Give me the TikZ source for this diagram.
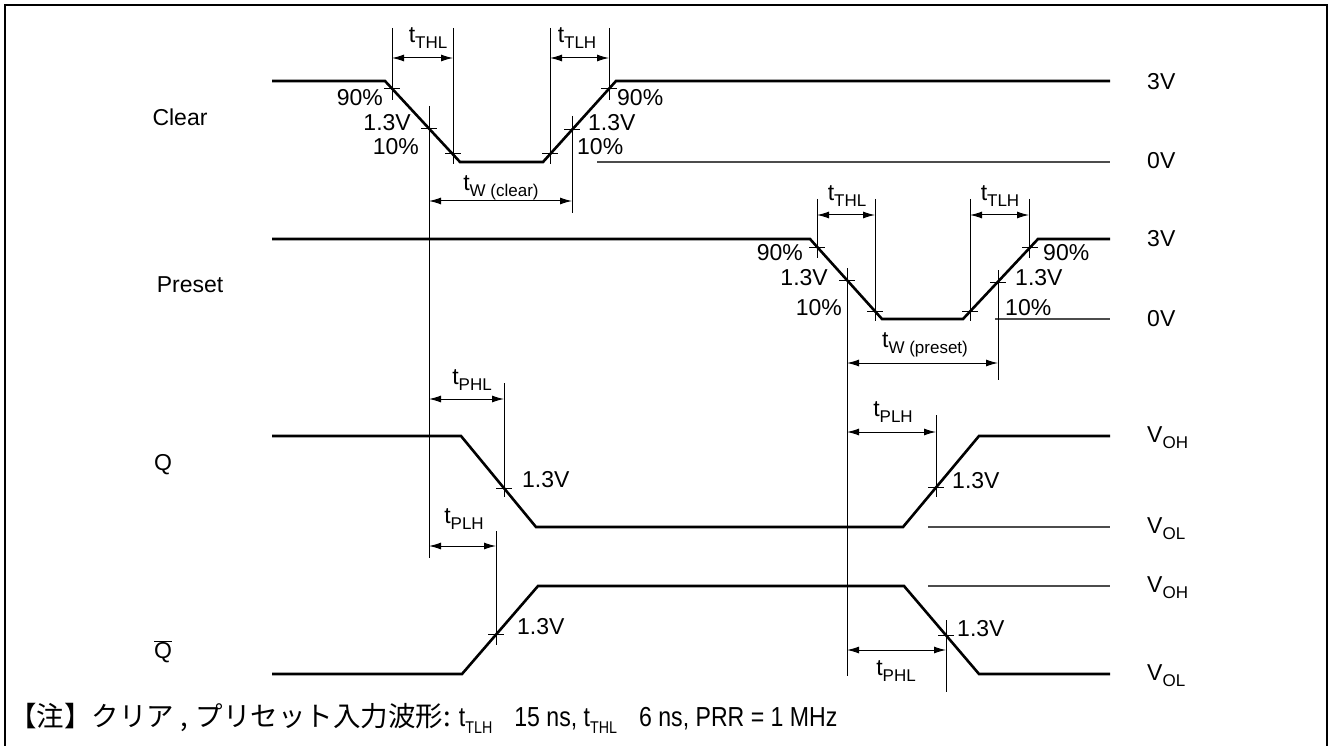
\documentclass[tikz,border=0pt]{standalone}
\usepackage{fontspec}
\setmainfont{Liberation Sans}
\newfontfamily\jpfont{Noto Sans CJK JP}
\newfontfamily\notefont{Liberation Sans}[FakeStretch=0.84]
\usetikzlibrary{arrows.meta}
\newcommand\lbfont{\fontsize{23}{26}\selectfont}
\newcommand\tsub[1]{\raisebox{-0.25em}{\fontsize{17}{17}\selectfont #1}}

\tikzset{
  wave/.style={line width=2.6pt},
  guide/.style={line width=1pt},
  refline/.style={line width=1.2pt, black!70},
  dim/.style={line width=1pt, {Latex[length=12pt,width=7pt]}-{Latex[length=12pt,width=7pt]}},
  lbl/.style={inner sep=0pt, font=\lbfont},
}

\begin{document}
\begin{tikzpicture}[x=1pt, y=-1pt]
    \useasboundingbox (0,0) rectangle (1330,746);
    \draw[line width=2.7pt] (5,760) -- (5,5) -- (1327,5) -- (1327,760);

    \node[lbl] (clr) at (180,117) {Clear};
    \node[lbl] (pre) at (190,285) {Preset};
    \node[lbl] (q) at (163,465) {Q};
    \node[lbl] (qb) at (163,652) {\ensuremath{\overline{\mbox{Q}}}};

    \node[lbl, anchor=west] (v1) at (1147,82) {3V};
    \node[lbl, anchor=west] (v2) at (1147,161) {0V};
    \node[lbl, anchor=west] (v3) at (1147,239) {3V};
    \node[lbl, anchor=west] (v4) at (1147,319) {0V};
    \node[lbl, anchor=west] (v5) at (1147,438) {V\tsub{OH}};
    \node[lbl, anchor=west] (v6) at (1147,529) {V\tsub{OL}};
    \node[lbl, anchor=west] (v7) at (1147,588) {V\tsub{OH}};
    \node[lbl, anchor=west] (v8) at (1147,676) {V\tsub{OL}};

    \draw[wave] (272,81) -- (385,81) -- (460,162) -- (543,162) -- (616,81) -- (1110,81);
    \draw[wave] (272,239) -- (810,239) -- (882,319) -- (963,319) -- (1038,239) -- (1110,239);
    \draw[wave] (272,436) -- (461,436) -- (536,527) -- (903,527) -- (979,436) -- (1110,436);
    \draw[wave] (272,674) -- (462,674) -- (538,586) -- (904,586) -- (979,674) -- (1110,674);

    \draw[refline] (597,162) -- (1110,162);
    \draw[refline] (995,319) -- (1110,319);
    \draw[refline] (928,527) -- (1110,527);
    \draw[refline] (928,586) -- (1110,586);

    \draw[guide] (384,89) -- (400,89);
    \draw[guide] (421,128.5) -- (437,128.5);
    \draw[guide] (445,154) -- (461,154);
    \draw[guide] (542,154) -- (558,154);
    \draw[guide] (564,130) -- (580,130);
    \draw[guide] (601,89) -- (617,89);
    \draw[guide] (809,247) -- (825,247);
    \draw[guide] (839,280) -- (855,280);
    \draw[guide] (867,311) -- (883,311);
    \draw[guide] (962,311) -- (978,311);
    \draw[guide] (990,282) -- (1006,282);
    \draw[guide] (1022,247) -- (1038,247);
    \draw[guide] (496,488) -- (512,488);
    \draw[guide] (928,487.5) -- (944,487.5);
    \draw[guide] (488,634.5) -- (504,634.5);
    \draw[guide] (938,635) -- (954,635);

    \draw[guide] (392,28) -- (392,100);
    \draw[guide] (453,28) -- (453,164);
    \draw[guide] (550,28) -- (550,164);
    \draw[guide] (609,28) -- (609,100);
    \draw[guide] (429,106) -- (429,558);
    \draw[guide] (572,116) -- (572,213);
    \draw[guide] (817,199) -- (817,258);
    \draw[guide] (875,199) -- (875,321);
    \draw[guide] (970,199) -- (970,321);
    \draw[guide] (1029,199) -- (1029,258);
    \draw[guide] (847,268) -- (847,676);
    \draw[guide] (998,270) -- (998,380);
    \draw[guide] (504,383) -- (504,497);
    \draw[guide] (936,415) -- (936,497);
    \draw[guide] (496,531) -- (496,645);
    \draw[guide] (946,620) -- (946,692);

    \draw[dim] (392,58) -- (453,58);
    \draw[dim] (550,58) -- (609,58);
    \draw[dim] (429,201) -- (572,201);
    \draw[dim] (817,215) -- (875,215);
    \draw[dim] (970,215) -- (1029,215);
    \draw[dim] (847,363) -- (998,363);
    \draw[dim] (429,399) -- (504,399);
    \draw[dim] (847,432) -- (936,432);
    \draw[dim] (429,546) -- (496,546);
    \draw[dim] (847,650) -- (946,650);

    \node[lbl] (thl1) at (428,38) {t\tsub{THL}};
    \node[lbl] (tlh1) at (577,38) {t\tsub{TLH}};
    \node[lbl] (twc) at (501,188) {t\tsub{W (clear)}};
    \node[lbl] (thl2) at (847,196) {t\tsub{THL}};
    \node[lbl] (tlh2) at (1000,196) {t\tsub{TLH}};
    \node[lbl] (twp) at (925,345) {t\tsub{W (preset)}};
    \node[lbl] (tphl1) at (472,380) {t\tsub{PHL}};
    \node[lbl] (tplh1) at (464,519) {t\tsub{PLH}};
    \node[lbl] (tplh2) at (893,412) {t\tsub{PLH}};
    \node[lbl] (tphl2) at (896,671) {t\tsub{PHL}};

    \node[lbl, anchor=east] (c90a) at (383,98) {90\%};
    \node[lbl, anchor=east] (c13a) at (411,123) {1.3V};
    \node[lbl, anchor=east] (c10a) at (419,147) {10\%};
    \node[lbl, anchor=west] (c90b) at (617,98) {90\%};
    \node[lbl, anchor=west] (c13b) at (588,123) {1.3V};
    \node[lbl, anchor=west] (c10b) at (577,147) {10\%};

    \node[lbl, anchor=east] (p90a) at (803,253) {90\%};
    \node[lbl, anchor=east] (p13a) at (828,278) {1.3V};
    \node[lbl, anchor=east] (p10a) at (842,308) {10\%};
    \node[lbl, anchor=west] (p90b) at (1043,253) {90\%};
    \node[lbl, anchor=west] (p13b) at (1015,278) {1.3V};
    \node[lbl, anchor=west] (p10b) at (1005,308) {10\%};

    \node[lbl, anchor=west] (q13a) at (522,480) {1.3V};
    \node[lbl, anchor=west] (q13b) at (952,481) {1.3V};
    \node[lbl, anchor=west] (qb13a) at (517,627) {1.3V};
    \node[lbl, anchor=west] (qb13b) at (957,629) {1.3V};

    \node[lbl, anchor=west] (note) at (9,718) {\fontsize{27.5}{29}\selectfont{\jpfont 【注】クリア\hspace{6pt},\hspace{8pt}プリセット入力波形:}\notefont\hspace{8pt}t\tsub{TLH}\hspace{22pt}15 ns, t\tsub{THL}\hspace{22pt}6 ns, PRR = 1 MHz};
\end{tikzpicture}
\end{document}
